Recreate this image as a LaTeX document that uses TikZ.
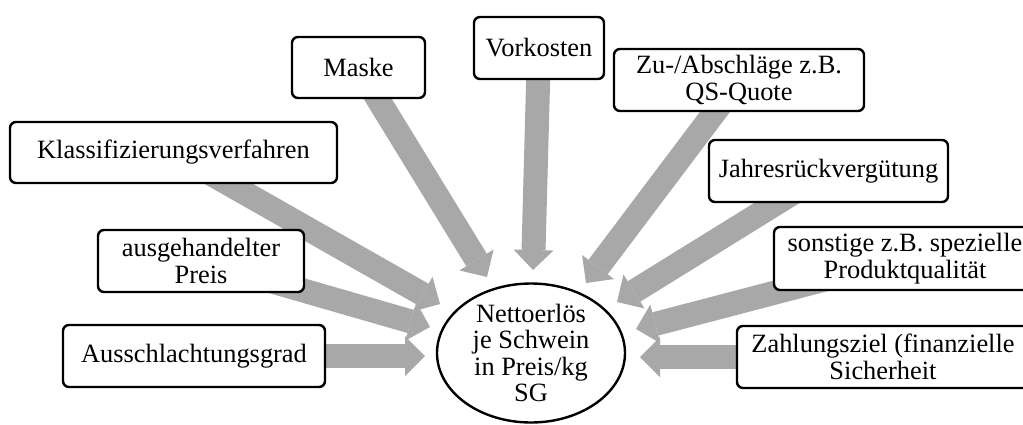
\documentclass[tikz,border=0pt]{standalone}
\usepackage{fontspec}
\setmainfont{Liberation Serif}
\usetikzlibrary{arrows.meta,backgrounds,shapes.geometric}
\definecolor{arrowgray}{RGB}{168,168,168}
\begin{document}
\begin{tikzpicture}[x=0.5pt,y=-0.5pt,
  txt/.style={font=\fontsize{13.2}{13.2}\selectfont, align=center, inner sep=0pt},
  box/.style={txt, draw=black, line width=1.2pt, rounded corners=3pt, fill=white},
  fat/.style={draw=arrowgray, line width=12pt, -{Triangle[width=20pt,length=10pt,line width=0pt]}}]
\useasboundingbox (0,0) rectangle (1023,424);
\clip (0,0) rectangle (1023,424);

% boxes
\node[box, minimum width=66.5pt, minimum height=30.5pt] (maske) at (358.5,67.5) {Maske};
\node[box, minimum width=65pt, minimum height=31pt] (vork) at (539,48) {Vorkosten};
\node[box, minimum width=125pt, minimum height=31pt] (zu) at (739,80) {Zu-/Abschläge z.B.\\QS-Quote};
\node[box, minimum width=119.5pt, minimum height=31pt] (jahr) at (828.5,171) {Jahresrückvergütung};
\node[box, minimum width=163.5pt, minimum height=30.5pt] (klass) at (173.5,152.5) {Klassifizierungsverfahren};
\node[box, minimum width=103pt, minimum height=31pt] (ausg) at (201,261) {ausgehandelter\\Preis};
\node[box, minimum width=131pt, minimum height=31pt] (aussch) at (194,356) {Ausschlachtungsgrad};
\node[box, minimum width=131pt, minimum height=31.5pt] (sonst) at (905,258.5) {sonstige z.B. spezielle\\Produktqualität};
\node[box, minimum width=146pt, minimum height=31pt] (zahl) at (883,357) {Zahlungsziel (finanzielle\\Sicherheit};

% centre
\node[ellipse, draw=black, line width=1.2pt, fill=white, minimum width=94pt, minimum height=69.5pt, inner sep=0pt] (ell) at (531,353) {};
\node[txt] (elltext) at (ell.center) {Nettoerlös\\je Schwein\\in Preis/kg\\SG};

% arrow tips
\coordinate (tvork) at (533,270);
\coordinate (tmaske) at (487,277);
\coordinate (tzu) at (586,283);
\coordinate (tjahr) at (617,302);
\coordinate (tsonst) at (636,329);
\coordinate (tzahl) at (640,357);
\coordinate (taussch) at (425,356);
\coordinate (tausg) at (430,327);
\coordinate (tklass) at (440,304);

\begin{pgfonlayer}{background}
\draw[fat] (vork.center) -- (tvork);
\draw[fat] (maske.center) -- (tmaske);
\draw[fat] (zu.center) -- (tzu);
\draw[fat] (jahr.center) -- (tjahr);
\draw[fat] (sonst.center) -- (tsonst);
\draw[fat] (zahl.center) -- (tzahl);
\draw[fat] (aussch.center) -- (taussch);
\draw[fat] (ausg.center) -- (tausg);
\draw[fat] (klass.center) -- (tklass);
\end{pgfonlayer}
\end{tikzpicture}
\end{document}
